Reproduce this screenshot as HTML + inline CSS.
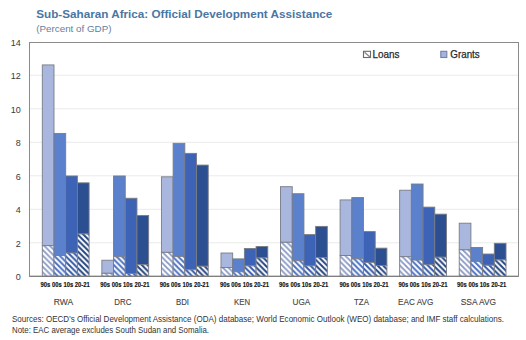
<!DOCTYPE html>
<html><head><meta charset="utf-8"><style>
html,body{margin:0;padding:0;background:#fff;width:526px;height:340px;overflow:hidden;}
svg{display:block;font-family:"Liberation Sans", sans-serif;}
</style></head><body>
<svg width="526" height="340" viewBox="0 0 526 340" font-family="'Liberation Sans', sans-serif"><defs><pattern id="h0" patternUnits="userSpaceOnUse" width="5.6" height="5.6">
<rect width="5.6" height="5.6" fill="#fff"/>
<path d="M-1,-1 L6.6,6.6 M-1,4.6 L1,6.6 M4.6,-1 L6.6,1" stroke="#8797c4" stroke-width="1.8"/></pattern><pattern id="h1" patternUnits="userSpaceOnUse" width="5.6" height="5.6">
<rect width="5.6" height="5.6" fill="#fff"/>
<path d="M-1,-1 L6.6,6.6 M-1,4.6 L1,6.6 M4.6,-1 L6.6,1" stroke="#4d72c2" stroke-width="2.0"/></pattern><pattern id="h2" patternUnits="userSpaceOnUse" width="5.6" height="5.6">
<rect width="5.6" height="5.6" fill="#fff"/>
<path d="M-1,-1 L6.6,6.6 M-1,4.6 L1,6.6 M4.6,-1 L6.6,1" stroke="#3459a8" stroke-width="2.0"/></pattern><pattern id="h3" patternUnits="userSpaceOnUse" width="5.6" height="5.6">
<rect width="5.6" height="5.6" fill="#fff"/>
<path d="M-1,-1 L6.6,6.6 M-1,4.6 L1,6.6 M4.6,-1 L6.6,1" stroke="#264580" stroke-width="2.0"/></pattern></defs>
<line x1="30" x2="518" y1="242.80" y2="242.80" stroke="#eaeaea" stroke-width="1"/>
<line x1="30" x2="518" y1="209.30" y2="209.30" stroke="#eaeaea" stroke-width="1"/>
<line x1="30" x2="518" y1="175.80" y2="175.80" stroke="#eaeaea" stroke-width="1"/>
<line x1="30" x2="518" y1="142.30" y2="142.30" stroke="#eaeaea" stroke-width="1"/>
<line x1="30" x2="518" y1="108.80" y2="108.80" stroke="#eaeaea" stroke-width="1"/>
<line x1="30" x2="518" y1="75.30" y2="75.30" stroke="#eaeaea" stroke-width="1"/>
<text y="280.10" x="20.8" text-anchor="end" font-size="9" fill="#3a3a3a">0</text>
<text y="246.60" x="20.8" text-anchor="end" font-size="9" fill="#3a3a3a">2</text>
<text y="213.10" x="20.8" text-anchor="end" font-size="9" fill="#3a3a3a">4</text>
<text y="179.60" x="20.8" text-anchor="end" font-size="9" fill="#3a3a3a">6</text>
<text y="146.10" x="20.8" text-anchor="end" font-size="9" fill="#3a3a3a">8</text>
<text y="112.60" x="20.8" text-anchor="end" font-size="9" fill="#3a3a3a">10</text>
<text y="79.10" x="20.8" text-anchor="end" font-size="9" fill="#3a3a3a">12</text>
<text y="45.60" x="20.8" text-anchor="end" font-size="9" fill="#3a3a3a">14</text>
<rect x="42.30" y="64.92" width="11.70" height="180.73" fill="#a9b7df" stroke="#787c86" stroke-width="0.9"/>
<rect x="42.30" y="245.65" width="11.70" height="30.65" fill="url(#h0)" stroke="#787c86" stroke-width="0.9"/>
<rect x="54.00" y="133.42" width="11.70" height="122.11" fill="#5b80cc" stroke="#787c86" stroke-width="0.9"/>
<rect x="54.00" y="255.53" width="11.70" height="20.77" fill="url(#h1)" stroke="#787c86" stroke-width="0.9"/>
<rect x="65.70" y="175.97" width="11.70" height="77.05" fill="#3c63b5" stroke="#787c86" stroke-width="0.9"/>
<rect x="65.70" y="253.02" width="11.70" height="23.28" fill="url(#h2)" stroke="#787c86" stroke-width="0.9"/>
<rect x="77.40" y="182.84" width="11.70" height="51.09" fill="#2c4f91" stroke="#787c86" stroke-width="0.9"/>
<rect x="77.40" y="233.92" width="11.70" height="42.38" fill="url(#h3)" stroke="#787c86" stroke-width="0.9"/>
<text x="65.20" y="286.7" text-anchor="middle" font-size="7.0" font-weight="bold" fill="#111" stroke="#111" stroke-width="0.15" textLength="49.2" lengthAdjust="spacingAndGlyphs">90s 00s 10s 20-21</text>
<text x="63.40" y="304.8" text-anchor="middle" font-size="9.4" fill="#444" stroke="#444" stroke-width="0.12" textLength="19.4" lengthAdjust="spacingAndGlyphs">RWA</text>
<rect x="101.86" y="260.22" width="11.70" height="13.06" fill="#a9b7df" stroke="#787c86" stroke-width="0.9"/>
<rect x="101.86" y="273.29" width="11.70" height="3.01" fill="url(#h0)" stroke="#787c86" stroke-width="0.9"/>
<rect x="113.56" y="175.97" width="11.70" height="80.73" fill="#5b80cc" stroke="#787c86" stroke-width="0.9"/>
<rect x="113.56" y="256.70" width="11.70" height="19.60" fill="url(#h1)" stroke="#787c86" stroke-width="0.9"/>
<rect x="125.26" y="198.25" width="11.70" height="75.21" fill="#3c63b5" stroke="#787c86" stroke-width="0.9"/>
<rect x="125.26" y="273.45" width="11.70" height="2.85" fill="url(#h2)" stroke="#787c86" stroke-width="0.9"/>
<rect x="136.96" y="215.50" width="11.70" height="49.25" fill="#2c4f91" stroke="#787c86" stroke-width="0.9"/>
<rect x="136.96" y="264.74" width="11.70" height="11.56" fill="url(#h3)" stroke="#787c86" stroke-width="0.9"/>
<text x="124.90" y="286.7" text-anchor="middle" font-size="7.0" font-weight="bold" fill="#111" stroke="#111" stroke-width="0.15" textLength="49.2" lengthAdjust="spacingAndGlyphs">90s 00s 10s 20-21</text>
<text x="122.80" y="304.8" text-anchor="middle" font-size="9.4" fill="#444" stroke="#444" stroke-width="0.12" textLength="17.1" lengthAdjust="spacingAndGlyphs">DRC</text>
<rect x="161.42" y="176.81" width="11.70" height="75.54" fill="#a9b7df" stroke="#787c86" stroke-width="0.9"/>
<rect x="161.42" y="252.35" width="11.70" height="23.95" fill="url(#h0)" stroke="#787c86" stroke-width="0.9"/>
<rect x="173.12" y="143.31" width="11.70" height="113.06" fill="#5b80cc" stroke="#787c86" stroke-width="0.9"/>
<rect x="173.12" y="256.37" width="11.70" height="19.93" fill="url(#h1)" stroke="#787c86" stroke-width="0.9"/>
<rect x="184.82" y="153.36" width="11.70" height="116.41" fill="#3c63b5" stroke="#787c86" stroke-width="0.9"/>
<rect x="184.82" y="269.77" width="11.70" height="6.53" fill="url(#h2)" stroke="#787c86" stroke-width="0.9"/>
<rect x="196.52" y="165.08" width="11.70" height="101.17" fill="#2c4f91" stroke="#787c86" stroke-width="0.9"/>
<rect x="196.52" y="266.25" width="11.70" height="10.05" fill="url(#h3)" stroke="#787c86" stroke-width="0.9"/>
<text x="184.30" y="286.7" text-anchor="middle" font-size="7.0" font-weight="bold" fill="#111" stroke="#111" stroke-width="0.15" textLength="49.2" lengthAdjust="spacingAndGlyphs">90s 00s 10s 20-21</text>
<text x="182.50" y="304.8" text-anchor="middle" font-size="9.4" fill="#444" stroke="#444" stroke-width="0.12" textLength="13.0" lengthAdjust="spacingAndGlyphs">BDI</text>
<rect x="220.98" y="253.02" width="11.70" height="14.57" fill="#a9b7df" stroke="#787c86" stroke-width="0.9"/>
<rect x="220.98" y="267.59" width="11.70" height="8.71" fill="url(#h0)" stroke="#787c86" stroke-width="0.9"/>
<rect x="232.68" y="258.88" width="11.70" height="12.90" fill="#5b80cc" stroke="#787c86" stroke-width="0.9"/>
<rect x="232.68" y="271.78" width="11.70" height="4.52" fill="url(#h1)" stroke="#787c86" stroke-width="0.9"/>
<rect x="244.38" y="248.50" width="11.70" height="17.42" fill="#3c63b5" stroke="#787c86" stroke-width="0.9"/>
<rect x="244.38" y="265.92" width="11.70" height="10.38" fill="url(#h2)" stroke="#787c86" stroke-width="0.9"/>
<rect x="256.08" y="246.49" width="11.70" height="11.39" fill="#2c4f91" stroke="#787c86" stroke-width="0.9"/>
<rect x="256.08" y="257.88" width="11.70" height="18.43" fill="url(#h3)" stroke="#787c86" stroke-width="0.9"/>
<text x="244.50" y="286.7" text-anchor="middle" font-size="7.0" font-weight="bold" fill="#111" stroke="#111" stroke-width="0.15" textLength="49.2" lengthAdjust="spacingAndGlyphs">90s 00s 10s 20-21</text>
<text x="242.10" y="304.8" text-anchor="middle" font-size="9.4" fill="#444" stroke="#444" stroke-width="0.12" textLength="16.0" lengthAdjust="spacingAndGlyphs">KEN</text>
<rect x="280.54" y="186.69" width="11.70" height="55.61" fill="#a9b7df" stroke="#787c86" stroke-width="0.9"/>
<rect x="280.54" y="242.30" width="11.70" height="34.00" fill="url(#h0)" stroke="#787c86" stroke-width="0.9"/>
<rect x="292.24" y="193.72" width="11.70" height="67.00" fill="#5b80cc" stroke="#787c86" stroke-width="0.9"/>
<rect x="292.24" y="260.72" width="11.70" height="15.58" fill="url(#h1)" stroke="#787c86" stroke-width="0.9"/>
<rect x="303.94" y="234.59" width="11.70" height="31.32" fill="#3c63b5" stroke="#787c86" stroke-width="0.9"/>
<rect x="303.94" y="265.92" width="11.70" height="10.38" fill="url(#h2)" stroke="#787c86" stroke-width="0.9"/>
<rect x="315.64" y="226.39" width="11.70" height="31.16" fill="#2c4f91" stroke="#787c86" stroke-width="0.9"/>
<rect x="315.64" y="257.54" width="11.70" height="18.76" fill="url(#h3)" stroke="#787c86" stroke-width="0.9"/>
<text x="303.60" y="286.7" text-anchor="middle" font-size="7.0" font-weight="bold" fill="#111" stroke="#111" stroke-width="0.15" textLength="49.2" lengthAdjust="spacingAndGlyphs">90s 00s 10s 20-21</text>
<text x="301.40" y="304.8" text-anchor="middle" font-size="9.4" fill="#444" stroke="#444" stroke-width="0.12" textLength="17.8" lengthAdjust="spacingAndGlyphs">UGA</text>
<rect x="340.10" y="199.92" width="11.70" height="55.61" fill="#a9b7df" stroke="#787c86" stroke-width="0.9"/>
<rect x="340.10" y="255.53" width="11.70" height="20.77" fill="url(#h0)" stroke="#787c86" stroke-width="0.9"/>
<rect x="351.80" y="197.57" width="11.70" height="61.31" fill="#5b80cc" stroke="#787c86" stroke-width="0.9"/>
<rect x="351.80" y="258.88" width="11.70" height="17.42" fill="url(#h1)" stroke="#787c86" stroke-width="0.9"/>
<rect x="363.50" y="231.58" width="11.70" height="30.82" fill="#3c63b5" stroke="#787c86" stroke-width="0.9"/>
<rect x="363.50" y="262.40" width="11.70" height="13.90" fill="url(#h2)" stroke="#787c86" stroke-width="0.9"/>
<rect x="375.20" y="248.16" width="11.70" height="17.42" fill="#2c4f91" stroke="#787c86" stroke-width="0.9"/>
<rect x="375.20" y="265.58" width="11.70" height="10.72" fill="url(#h3)" stroke="#787c86" stroke-width="0.9"/>
<text x="364.00" y="286.7" text-anchor="middle" font-size="7.0" font-weight="bold" fill="#111" stroke="#111" stroke-width="0.15" textLength="49.2" lengthAdjust="spacingAndGlyphs">90s 00s 10s 20-21</text>
<text x="361.50" y="304.8" text-anchor="middle" font-size="9.4" fill="#444" stroke="#444" stroke-width="0.12" textLength="14.9" lengthAdjust="spacingAndGlyphs">TZA</text>
<rect x="399.66" y="190.21" width="11.70" height="66.50" fill="#a9b7df" stroke="#787c86" stroke-width="0.9"/>
<rect x="399.66" y="256.70" width="11.70" height="19.60" fill="url(#h0)" stroke="#787c86" stroke-width="0.9"/>
<rect x="411.36" y="184.01" width="11.70" height="76.04" fill="#5b80cc" stroke="#787c86" stroke-width="0.9"/>
<rect x="411.36" y="260.05" width="11.70" height="16.25" fill="url(#h1)" stroke="#787c86" stroke-width="0.9"/>
<rect x="423.06" y="207.12" width="11.70" height="57.62" fill="#3c63b5" stroke="#787c86" stroke-width="0.9"/>
<rect x="423.06" y="264.74" width="11.70" height="11.56" fill="url(#h2)" stroke="#787c86" stroke-width="0.9"/>
<rect x="434.76" y="214.16" width="11.70" height="43.05" fill="#2c4f91" stroke="#787c86" stroke-width="0.9"/>
<rect x="434.76" y="257.21" width="11.70" height="19.09" fill="url(#h3)" stroke="#787c86" stroke-width="0.9"/>
<text x="423.00" y="286.7" text-anchor="middle" font-size="7.0" font-weight="bold" fill="#111" stroke="#111" stroke-width="0.15" textLength="49.2" lengthAdjust="spacingAndGlyphs">90s 00s 10s 20-21</text>
<text x="415.70" y="304.8" text-anchor="middle" font-size="9.4" fill="#444" stroke="#444" stroke-width="0.12" textLength="35.3" lengthAdjust="spacingAndGlyphs">EAC AVG</text>
<rect x="459.22" y="223.20" width="11.70" height="26.63" fill="#a9b7df" stroke="#787c86" stroke-width="0.9"/>
<rect x="459.22" y="249.84" width="11.70" height="26.47" fill="url(#h0)" stroke="#787c86" stroke-width="0.9"/>
<rect x="470.92" y="247.49" width="11.70" height="13.90" fill="#5b80cc" stroke="#787c86" stroke-width="0.9"/>
<rect x="470.92" y="261.39" width="11.70" height="14.91" fill="url(#h1)" stroke="#787c86" stroke-width="0.9"/>
<rect x="482.62" y="254.02" width="11.70" height="11.22" fill="#3c63b5" stroke="#787c86" stroke-width="0.9"/>
<rect x="482.62" y="265.25" width="11.70" height="11.06" fill="url(#h2)" stroke="#787c86" stroke-width="0.9"/>
<rect x="494.32" y="243.30" width="11.70" height="16.58" fill="#2c4f91" stroke="#787c86" stroke-width="0.9"/>
<rect x="494.32" y="259.88" width="11.70" height="16.42" fill="url(#h3)" stroke="#787c86" stroke-width="0.9"/>
<text x="481.60" y="286.7" text-anchor="middle" font-size="7.0" font-weight="bold" fill="#111" stroke="#111" stroke-width="0.15" textLength="49.2" lengthAdjust="spacingAndGlyphs">90s 00s 10s 20-21</text>
<text x="478.40" y="304.8" text-anchor="middle" font-size="9.4" fill="#444" stroke="#444" stroke-width="0.12" textLength="35.4" lengthAdjust="spacingAndGlyphs">SSA AVG</text>
<rect x="29.5" y="42.5" width="489" height="233.8" fill="none" stroke="#8a8a8a" stroke-width="1"/>
<line x1="29.5" x2="518.5" y1="276.30" y2="276.30" stroke="#777" stroke-width="1"/>
<rect x="363.5" y="51.3" width="7" height="6.2" fill="#fff" stroke="#6a6a6a" stroke-width="1.1"/>
<path d="M364.5,52.3 L370,57" stroke="#8a8a8a" stroke-width="1.4"/>
<text x="372.5" y="58" font-size="10.2" fill="#2a2a2a" stroke="#2a2a2a" stroke-width="0.25" textLength="27" lengthAdjust="spacingAndGlyphs">Loans</text>
<rect x="440.8" y="51.3" width="6" height="6.2" fill="#a6b3dc" stroke="#7280aa" stroke-width="1.1"/>
<text x="450.3" y="58" font-size="10.2" fill="#2a2a2a" stroke="#2a2a2a" stroke-width="0.25" textLength="29.4" lengthAdjust="spacingAndGlyphs">Grants</text>
<text x="36.3" y="18.1" font-size="11.5" font-weight="bold" fill="#4b76a3" textLength="296" lengthAdjust="spacingAndGlyphs">Sub-Saharan Africa: Official Development Assistance</text>
<text x="36.3" y="31.6" font-size="9.3" fill="#64809f" textLength="75.2" lengthAdjust="spacingAndGlyphs">(Percent of GDP)</text>
<text x="12" y="322.3" font-size="9" fill="#333" textLength="492" lengthAdjust="spacingAndGlyphs">Sources: OECD’s Official Development Assistance (ODA) database; World Economic Outlook (WEO) database; and IMF staff calculations.</text>
<text x="12" y="332.9" font-size="9" fill="#333" textLength="197" lengthAdjust="spacingAndGlyphs">Note: EAC average excludes South Sudan and Somalia.</text></svg>
</body></html>
